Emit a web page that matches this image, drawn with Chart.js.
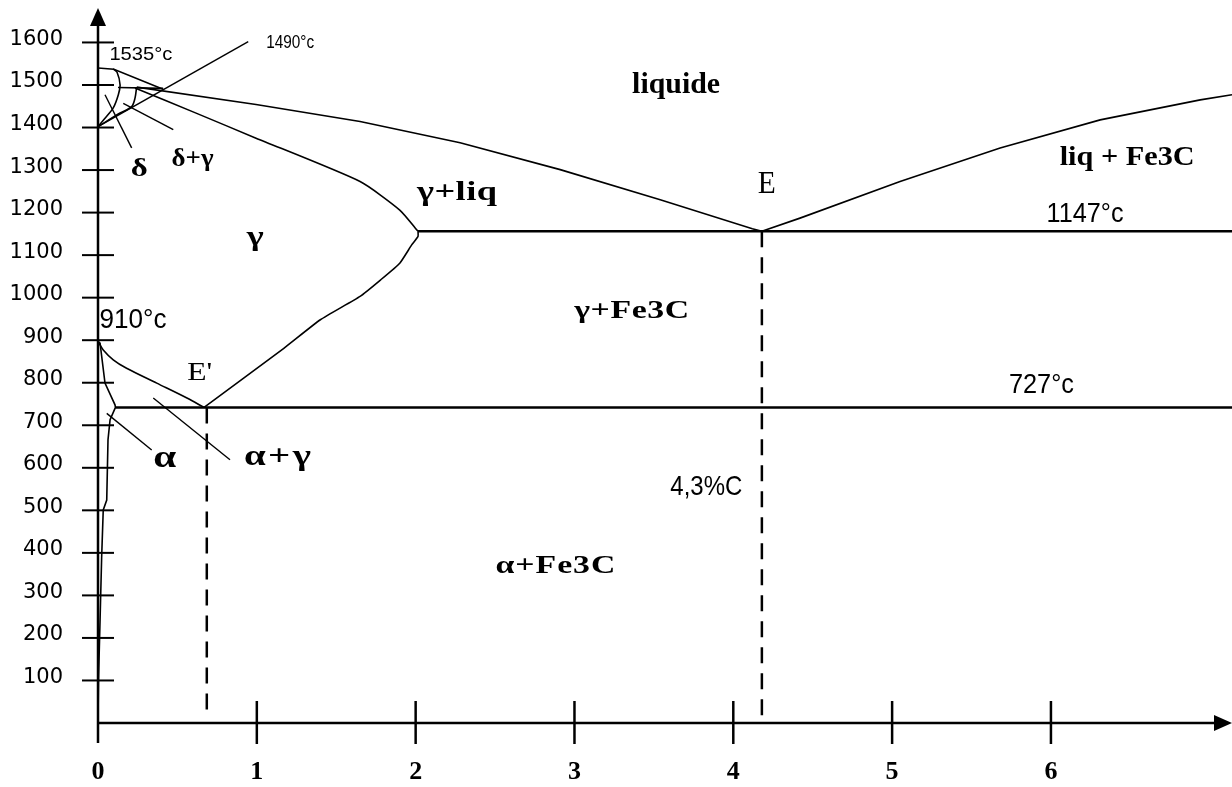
<!DOCTYPE html>
<html>
<head>
<meta charset="utf-8">
<script src="https://cdn.jsdelivr.net/npm/chart.js@4.4.1/dist/chart.umd.min.js"></script>
<style>
    html, body { margin: 0; padding: 0; background: #fff; }
    #wrap { width: 1232px; height: 787px; position: relative; }
</style>
</head>
<body>
<div id="wrap"><canvas id="chart"></canvas></div>
<script>
// axe x : % de carbone, axe y : temperature en degres
var xTicks = [0, 1, 2, 3, 4, 5, 6];
var tempTicks = [100, 200, 300, 400, 500, 600, 700, 800, 900, 1000, 1100, 1200, 1300, 1400, 1500, 1600];
var xMax = 7.14;
var tMax = 1681;

// courbes du diagramme [x, T]
var deltaLiquidus = [[0, 1540], [0.1, 1537], [0.41, 1490]];
var peritectic = [[0.126, 1494], [0.41, 1492]];
var liquidus = [[0.244, 1495], [0.995, 1454], [1.65, 1414], [2.28, 1364], [2.91, 1301], [3.54, 1230], [4.12, 1162], [4.18, 1156]];
var liquidusFe3C = [[4.18, 1156], [4.42, 1187], [5.05, 1273], [5.68, 1352], [6.31, 1418], [6.94, 1465], [7.14, 1477]];
var eutectic = [[2.015, 1156], [7.14, 1156]];
var solidusGamma = [[0.233, 1493], [0.61, 1435], [0.995, 1375], [1.65, 1273], [1.90, 1206], [2.015, 1156]];
var acm = [[2.015, 1156], [2.015, 1144], [1.975, 1124], [1.90, 1081], [1.78, 1042], [1.65, 1003], [1.40, 948], [1.17, 881], [0.668, 742]];
var a3 = [[0, 897], [0.033, 877], [0.096, 854], [0.18, 834], [0.37, 799], [0.56, 764], [0.668, 742]];
var alphaLimit = [[0, 897], [0.013, 893], [0.044, 799], [0.107, 748], [0.11, 742], [0.076, 713], [0.063, 666], [0.055, 524], [0.033, 501], [0.023, 390], [0.013, 242], [0.003, 101], [0, 0]];
var eutectoid = [[0.11, 742], [7.14, 742]];
var deltaLoop = [[0.095, 1538], [0.12, 1530], [0.139, 1500], [0.128, 1477], [0.096, 1446], [0.04, 1420], [0, 1402]];
var gammaLoop = [[0.243, 1495], [0.233, 1469], [0.212, 1449], [0.139, 1434], [0, 1402]];
var dropE1 = [[0.685, 742], [0.685, 31]];
var dropE = [[4.18, 1156], [4.18, 0]];

// traits de rappel vers les etiquettes
var leaders = [
    [[0, 1402], [0.946, 1602]],
    [[0.044, 1477], [0.212, 1352]],
    [[0.159, 1457], [0.474, 1395]],
    [[0.055, 728], [0.338, 642]],
    [[0.348, 764], [0.831, 619]]
];

// etiquettes : texte, x, T (ligne de base)
var notes = [
    ['liquide', 3.64, 1482],
    ['\u03b3+liq', 2.26, 1230],
    ['E', 4.21, 1246],
    ['liq + Fe3C', 6.48, 1312],
    ['1147\u00b0c', 6.215, 1179],
    ['727\u00b0c', 5.94, 776],
    ['910\u00b0c', 0.22, 929],
    ['4,3%C', 3.83, 536],
    ['1535\u00b0c', 0.27, 1559],
    ['1490\u00b0c', 1.21, 1587],
    ['\u03b3', 0.99, 1124],
    ['\u03b3+Fe3C', 3.36, 952],
    ['\u03b1+Fe3C', 2.88, 353],
    ['\u03b1', 0.42, 602],
    ['\u03b1+\u03b3', 1.13, 607],
    ['\u03b4', 0.26, 1285],
    ['\u03b4+\u03b3', 0.595, 1310],
    ["E'", 0.64, 807]
];

// style de chaque etiquette : police, largeur en px
var noteStyle = [
    ['bold 30px "Liberation Serif"', 88],
    ['bold 28px "Liberation Serif"', 80],
    ['32px "Liberation Serif"', 18],
    ['bold 28px "Liberation Serif"', 135],
    ['28px "Liberation Sans"', 77],
    ['28px "Liberation Sans"', 65],
    ['28px "Liberation Sans"', 67],
    ['28px "Liberation Sans"', 72],
    ['18px "Liberation Sans"', 63],
    ['18px "Liberation Sans"', 48],
    ['bold 28px "Liberation Serif"', 17],
    ['bold 26px "Liberation Serif"', 115],
    ['bold 26px "Liberation Serif"', 120],
    ['bold 32px "Liberation Serif"', 23],
    ['bold 30px "Liberation Serif"', 67],
    ['bold 25px "Liberation Serif"', 17],
    ['bold 26px "Liberation Serif"', 42],
    ['25px "Liberation Serif"', 25]
];

function toPts(arr) {
    return arr.map(function (p) { return {x: p[0], y: p[1]}; });
}

function line(arr, opts) {
    return Object.assign({
        data: toPts(arr),
        showLine: true,
        borderColor: '#000',
        borderWidth: 1.6,
        pointRadius: 0,
        fill: false,
        tension: 0
    }, opts || {});
}

var datasets = [
    line(deltaLiquidus),
    line(peritectic),
    line(liquidus),
    line(liquidusFe3C),
    line(eutectic, {borderWidth: 2.5}),
    line(solidusGamma, {tension: 0.2}),
    line(acm, {tension: 0.15}),
    line(a3, {tension: 0.3}),
    line(alphaLimit),
    line(eutectoid, {borderWidth: 2.5}),
    line(deltaLoop, {tension: 0.3}),
    line(gammaLoop, {tension: 0.3}),
    line(dropE1, {borderWidth: 2.5, borderDash: [16, 10]}),
    line(dropE, {borderWidth: 2.5, borderDash: [16, 10]})
].concat(leaders.map(function (l) { return line(l, {borderWidth: 1.4}); }));

// texte cale sur une largeur donnee (etirement limite, puis espacement)
function fitText(ctx, text, cx, base, w) {
    var w0 = ctx.measureText(text).width;
    var chars = Array.from(text);
    var s = w / w0;
    ctx.save();
    ctx.translate(cx, base);
    if (s <= 1.3 || chars.length === 1) {
        ctx.textAlign = 'center';
        ctx.scale(s, 1);
        ctx.fillText(text, 0, 0);
    } else {
        ctx.scale(1.3, 1);
        var wu = w / 1.3;
        var gap = (wu - w0) / (chars.length - 1);
        var x = -wu / 2;
        ctx.textAlign = 'left';
        chars.forEach(function (ch) {
            ctx.fillText(ch, x, 0);
            x += ctx.measureText(ch).width + gap;
        });
    }
    ctx.restore();
}

var axesPlugin = {
    id: 'axes',
    afterDatasetsDraw: function (chart) {
        var ctx = chart.ctx;
        var xs = chart.scales.x, ys = chart.scales.y;
        var x0 = xs.getPixelForValue(0), y0 = ys.getPixelForValue(0);
        var top = chart.chartArea.top, right = chart.chartArea.right;
        ctx.save();
        ctx.strokeStyle = '#000';
        ctx.fillStyle = '#000';
        ctx.lineWidth = 2.5;
        ctx.beginPath();
        ctx.moveTo(x0, y0 + 20);
        ctx.lineTo(x0, top + 12);
        ctx.stroke();
        ctx.beginPath();
        ctx.moveTo(x0, y0);
        ctx.lineTo(right - 12, y0);
        ctx.stroke();
        // fleches
        ctx.beginPath();
        ctx.moveTo(x0, top);
        ctx.lineTo(x0 - 8, top + 18);
        ctx.lineTo(x0 + 8, top + 18);
        ctx.closePath();
        ctx.fill();
        ctx.beginPath();
        ctx.moveTo(right, y0);
        ctx.lineTo(right - 18, y0 - 8);
        ctx.lineTo(right - 18, y0 + 8);
        ctx.closePath();
        ctx.fill();
        // graduations
        ctx.lineWidth = 2;
        ys.ticks.forEach(function (t) {
            if (tempTicks.indexOf(t.value) < 0) return;
            var y = ys.getPixelForValue(t.value);
            ctx.beginPath();
            ctx.moveTo(x0 - 16, y);
            ctx.lineTo(x0 + 16, y);
            ctx.stroke();
        });
        ctx.lineWidth = 2.5;
        xs.ticks.forEach(function (t) {
            if (t.value === 0 || xTicks.indexOf(t.value) < 0) return;
            var x = xs.getPixelForValue(t.value);
            ctx.beginPath();
            ctx.moveTo(x, y0 - 22);
            ctx.lineTo(x, y0 + 21);
            ctx.stroke();
        });
        // etiquettes
        ctx.textBaseline = 'alphabetic';
        notes.forEach(function (n, i) {
            ctx.font = noteStyle[i][0];
            fitText(ctx, n[0], xs.getPixelForValue(n[1]), ys.getPixelForValue(n[2]), noteStyle[i][1]);
        });
        ctx.restore();
    }
};

var chart = new Chart(document.getElementById('chart'), {
    type: 'scatter',
    data: { datasets: datasets },
    plugins: [axesPlugin],
    options: {
        responsive: true,
        maintainAspectRatio: false,
        devicePixelRatio: 1,
        animation: false,
        events: [],
        layout: { padding: { top: 8, left: 0, right: 0, bottom: 0 } },
        plugins: {
            legend: { display: false },
            tooltip: { enabled: false }
        },
        scales: {
            x: {
                type: 'linear',
                min: 0,
                max: xMax,
                grid: { display: false, drawTicks: false },
                border: { display: false },
                ticks: {
                    stepSize: 1,
                    includeBounds: false,
                    autoSkip: false,
                    maxRotation: 0,
                    padding: 34,
                    color: '#000',
                    font: { family: 'Liberation Serif', size: 26, weight: 'bold' },
                    callback: function (v) { return xTicks.indexOf(v) >= 0 ? String(v) : ''; }
                },
                afterFit: function (scale) {
                    scale.height = 64;
                    scale.paddingLeft = 0;
                    scale.paddingRight = 0;
                }
            },
            y: {
                type: 'linear',
                min: 0,
                max: tMax,
                grid: { display: false, drawTicks: false },
                border: { display: false },
                ticks: {
                    stepSize: 100,
                    includeBounds: false,
                    autoSkip: false,
                    padding: 35,
                    labelOffset: -3,
                    color: '#000',
                    font: { family: 'DejaVu Sans', size: 21 },
                    callback: function (v) { return tempTicks.indexOf(v) >= 0 ? String(v) : ''; }
                },
                afterFit: function (scale) {
                    scale.width = 98;
                    scale.paddingTop = 0;
                    scale.paddingBottom = 0;
                }
            }
        }
    }
});
</script>
</body>
</html>
